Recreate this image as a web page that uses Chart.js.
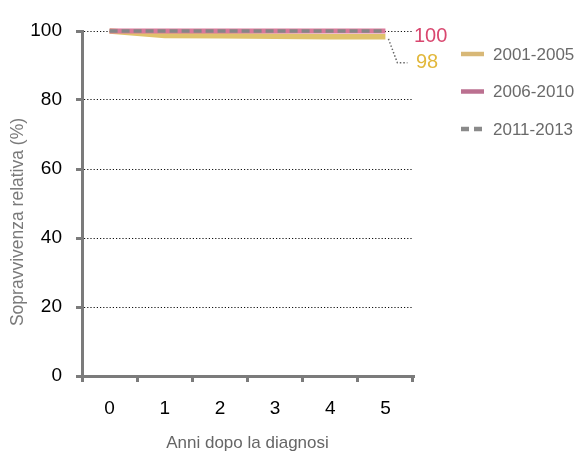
<!DOCTYPE html>
<html>
<head>
<meta charset="utf-8">
<script src="https://cdn.jsdelivr.net/npm/chart.js@4"></script>
<style>
  html, body { margin: 0; padding: 0; background: #fff; }
  canvas { display: block; }
</style>
</head>
<body>
<canvas id="grafico" width="581" height="454"></canvas>
<script>
// Dati
const anni = ['0', '1', '2', '3', '4', '5'];
const serie2001 = [100, 98.7, 98.6, 98.5, 98.3, 98.3];
const serie2006 = [100, 100, 100, 100, 100, 100];
const serie2011 = [100, 100, 100, 100, 100, 100];
const tickY = [0, 20, 40, 60, 80, 100];

const GRIGIO = '#7b7b7b';
const GIALLO = '#e0c26c';
const ROSA = '#d9799a';
const fontBase = "'Liberation Sans', Arial, sans-serif";

// titolo asse y, etichette finali, connettore e legenda disegnati a mano
const extra = {
  id: 'extra',
  afterDatasetsDraw(chart) {
    const { ctx, scales: { x, y } } = chart;
    const xEnd = x.getPixelForValue(5);
    const yGiallo = y.getPixelForValue(serie2001[5]);

    ctx.save();
    // connettore tratteggiato
    ctx.strokeStyle = '#666';
    ctx.lineWidth = 1.5;
    ctx.setLineDash([1.5, 2]);
    ctx.beginPath();
    ctx.moveTo(xEnd + 3, yGiallo + 2);
    ctx.lineTo(xEnd + 12, yGiallo + 26);
    ctx.lineTo(xEnd + 22, yGiallo + 26);
    ctx.stroke();
    ctx.setLineDash([]);

    ctx.font = '20px ' + fontBase;
    ctx.textBaseline = 'middle';
    ctx.fillStyle = '#d9476f';
    ctx.fillText('100', x.right + 1, y.getPixelForValue(100) + 5);
    ctx.fillStyle = '#e2b83c';
    ctx.fillText('98', x.right + 3, yGiallo + 26);

    // titolo asse y
    ctx.save();
    ctx.translate(18, 222);
    ctx.rotate(-Math.PI / 2);
    ctx.textAlign = 'center';
    ctx.fillStyle = '#7a7a7a';
    ctx.font = '17.5px ' + fontBase;
    ctx.fillText('Sopravvivenza relativa (%)', 0, 0);
    ctx.restore();

    // legenda
    const voci = [
      { t: '2001-2005', c: '#d8b877', d: [] },
      { t: '2006-2010', c: '#bb7090', d: [] },
      { t: '2011-2013', c: '#8a8a8a', d: [8, 5] }
    ];
    ctx.font = '17px ' + fontBase;
    voci.forEach((v, i) => {
      const yy = 54 + i * 37.5;
      ctx.strokeStyle = v.c;
      ctx.lineWidth = 4.5;
      ctx.setLineDash(v.d);
      ctx.beginPath();
      ctx.moveTo(461, yy);
      ctx.lineTo(484, yy);
      ctx.stroke();
      ctx.setLineDash([]);
      ctx.fillStyle = '#6a6a6a';
      ctx.fillText(v.t, 493, yy + 1);
    });
    ctx.restore();
  }
};

new Chart(document.getElementById('grafico'), {
  type: 'line',
  data: {
    labels: anni,
    datasets: [
      {
        label: '2001-2005', data: serie2001, borderColor: GIALLO, backgroundColor: GIALLO,
        borderWidth: 5.5, pointRadius: 0, order: 2, clip: false
      },
      {
        label: '2006-2010', data: serie2006, borderColor: ROSA, backgroundColor: ROSA,
        borderWidth: 5, pointRadius: 0, order: 1, clip: false
      },
      {
        label: '2011-2013', data: serie2011, borderColor: '#868686', backgroundColor: '#868686',
        borderWidth: 3.5, borderDash: [8, 4], pointRadius: 0, order: 0, clip: false
      }
    ]
  },
  options: {
    responsive: false,
    animation: false,
    layout: { padding: { top: 31, right: 168, left: 0, bottom: 0 } },
    plugins: { legend: { display: false }, tooltip: { enabled: false } },
    scales: {
      x: {
        type: 'category',
        offset: true,
        grid: {
          offset: true,
          drawOnChartArea: false,
          color: GRIGIO,
          lineWidth: 3,
          tickLength: 6
        },
        border: { color: GRIGIO, width: 3 },
        ticks: { color: '#000', font: { family: fontBase, size: 19 }, padding: 15 },
        title: {
          display: true, text: 'Anni dopo la diagnosi', color: '#666',
          font: { family: fontBase, size: 17 }, padding: { top: 10, bottom: 0 }
        },
        afterFit(scale) { scale.height = 78; }
      },
      y: {
        min: 0, max: 100,
        afterBuildTicks(scale) { scale.ticks = tickY.map(v => ({ value: v })); },
        grid: {
          color: '#111',
          lineWidth: 1,
          tickColor: GRIGIO,
          tickWidth: 3,
          tickLength: 6,
          tickBorderDash: []
        },
        border: { color: GRIGIO, width: 3, dash: [1.2, 2] },
        ticks: { color: '#000', font: { family: fontBase, size: 19 }, padding: 14 },
        afterFit(scale) { scale.width = 82; }
      }
    }
  },
  plugins: [extra]
});
</script>
</body>
</html>
